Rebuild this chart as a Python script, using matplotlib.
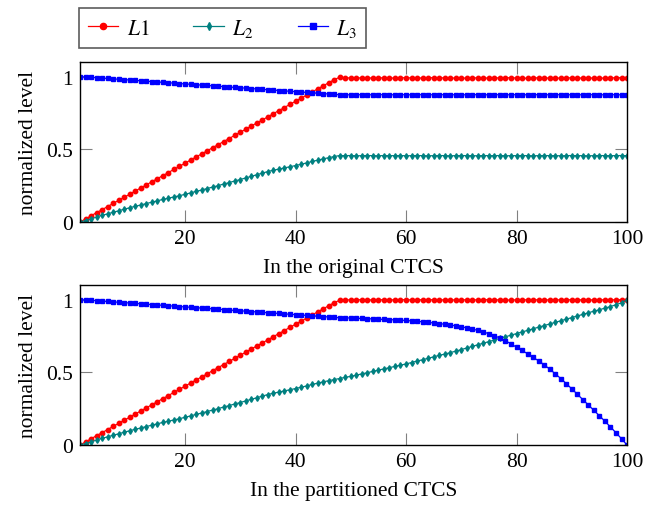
import numpy as np
import matplotlib
matplotlib.use("Agg")
import matplotlib.pyplot as plt

plt.rcParams['font.family'] = ['Liberation Serif', 'DejaVu Serif']
plt.rcParams['mathtext.fontset'] = 'stix'
plt.rcParams['font.size'] = 15.5

# eixo x: passos 1..100
passos = np.arange(1, 101)

# subida comum (x = 1..48)
subida_L1 = [0.000, 0.021, 0.043, 0.064, 0.085, 0.106, 0.128, 0.149, 0.170, 0.191,
             0.213, 0.234, 0.255, 0.277, 0.298, 0.319, 0.340, 0.362, 0.383, 0.404,
             0.426, 0.447, 0.468, 0.489, 0.511, 0.532, 0.553, 0.574, 0.596, 0.617,
             0.638, 0.660, 0.681, 0.702, 0.723, 0.745, 0.766, 0.787, 0.809, 0.830,
             0.851, 0.872, 0.894, 0.915, 0.936, 0.957, 0.979, 0.995]
subida_L2 = [0.000, 0.010, 0.021, 0.034, 0.046, 0.056, 0.067, 0.077, 0.088, 0.098,
             0.108, 0.117, 0.127, 0.136, 0.146, 0.155, 0.164, 0.172, 0.181, 0.190,
             0.200, 0.210, 0.220, 0.230, 0.240, 0.250, 0.261, 0.271, 0.282, 0.292,
             0.303, 0.314, 0.325, 0.336, 0.347, 0.356, 0.364, 0.372, 0.380, 0.388,
             0.397, 0.406, 0.416, 0.425, 0.434, 0.442, 0.450, 0.457]
descida_L3 = [1.000, 0.997, 0.995, 0.992, 0.989, 0.987, 0.984, 0.981, 0.979, 0.976,
              0.973, 0.971, 0.968, 0.965, 0.963, 0.960, 0.957, 0.955, 0.952, 0.949,
              0.947, 0.944, 0.941, 0.939, 0.936, 0.933, 0.931, 0.928, 0.925, 0.923,
              0.920, 0.917, 0.915, 0.912, 0.909, 0.907, 0.904, 0.901, 0.899, 0.896,
              0.893, 0.891, 0.888, 0.885, 0.883, 0.880, 0.877, 0.875]

# CTCS original (x = 49..100)
orig_L1_fim = [0.991, 0.990, 0.992, 0.989, 0.988, 0.991, 0.990, 0.991, 0.990, 0.989,
               0.991, 0.992, 0.990, 0.989, 0.990, 0.991, 0.992, 0.990, 0.991, 0.989,
               0.990, 0.992, 0.987, 0.990, 0.991, 0.990, 0.989, 0.991, 0.990, 0.992,
               0.991, 0.990, 0.989, 0.988, 0.990, 0.991, 0.989, 0.990, 0.988, 0.990,
               0.989, 0.992, 0.990, 0.989, 0.990, 0.989, 0.988, 0.990, 0.991, 0.991,
               0.990, 0.990]
orig_L2_fim = [0.456, 0.457, 0.455, 0.456, 0.457, 0.456, 0.455, 0.457, 0.456, 0.456,
               0.457, 0.455, 0.456, 0.457, 0.456, 0.455, 0.456, 0.457, 0.456, 0.455,
               0.456, 0.457, 0.456, 0.456, 0.455, 0.457, 0.456, 0.456, 0.457, 0.455,
               0.456, 0.456, 0.457, 0.456, 0.455, 0.456, 0.457, 0.456, 0.456, 0.455,
               0.456, 0.457, 0.456, 0.456, 0.455, 0.456, 0.457, 0.456, 0.456, 0.456,
               0.457, 0.456]
orig_L3_fim = [0.875, 0.874, 0.875, 0.875, 0.874, 0.875, 0.875, 0.875, 0.874, 0.875,
               0.875, 0.875, 0.874, 0.875, 0.875, 0.874, 0.875, 0.875, 0.875, 0.874,
               0.875, 0.875, 0.874, 0.875, 0.875, 0.875, 0.874, 0.875, 0.875, 0.874,
               0.875, 0.875, 0.875, 0.874, 0.875, 0.875, 0.874, 0.875, 0.875, 0.875,
               0.874, 0.875, 0.875, 0.874, 0.875, 0.875, 0.875, 0.874, 0.875, 0.875,
               0.874, 0.875]

# CTCS particionado (x = 49..100)
part_L1_fim = [0.998, 0.997, 0.999, 0.998, 0.996, 0.998, 0.997, 0.999, 0.998, 0.997,
               0.998, 0.999, 0.997, 0.998, 0.998, 0.997, 0.999, 0.998, 0.997, 0.996,
               0.998, 0.999, 0.997, 0.998, 0.997, 0.998, 0.999, 0.997, 0.998, 0.997,
               0.996, 0.998, 0.997, 0.998, 0.999, 0.997, 0.996, 0.998, 0.997, 0.998,
               0.997, 0.999, 0.998, 0.997, 0.996, 0.998, 0.997, 0.998, 0.997, 0.998,
               0.999, 0.998]
part_L2_fim = [0.465, 0.472, 0.480, 0.489, 0.497, 0.506, 0.515, 0.523, 0.532, 0.540,
               0.549, 0.557, 0.567, 0.577, 0.586, 0.596, 0.606, 0.616, 0.625, 0.635,
               0.645, 0.656, 0.667, 0.678, 0.689, 0.700, 0.711, 0.722, 0.733, 0.744,
               0.755, 0.766, 0.777, 0.788, 0.799, 0.810, 0.821, 0.832, 0.843, 0.854,
               0.865, 0.876, 0.887, 0.898, 0.909, 0.920, 0.930, 0.941, 0.952, 0.964,
               0.978, 0.998]
part_L3_fim = [0.874, 0.873, 0.871, 0.870, 0.868, 0.867, 0.865, 0.863, 0.862, 0.860,
               0.858, 0.856, 0.853, 0.850, 0.847, 0.843, 0.839, 0.835, 0.830, 0.825,
               0.819, 0.813, 0.805, 0.797, 0.788, 0.777, 0.765, 0.751, 0.735, 0.717,
               0.695, 0.672, 0.650, 0.627, 0.603, 0.578, 0.552, 0.521, 0.490, 0.457,
               0.422, 0.386, 0.349, 0.312, 0.275, 0.238, 0.201, 0.163, 0.124, 0.084,
               0.043, 0.000]

paineis = [
    ("In the original CTCS", subida_L1 + orig_L1_fim, subida_L2 + orig_L2_fim, descida_L3 + orig_L3_fim),
    ("In the partitioned CTCS", subida_L1 + part_L1_fim, subida_L2 + part_L2_fim, descida_L3 + part_L3_fim),
]

estilos = [
    (r"$L1$", "#ff0000", "o", 3.2),
    (r"$L_2$", "#008080", "d", 2.9),
    (r"$L_3\;$", "#0000ff", "s", 3.0),
]

fig = plt.figure(figsize=(6.57, 5.06), dpi=100)
eixos = [fig.add_axes([0.1218, 0.5593, 0.8326, 0.3162]),
         fig.add_axes([0.1218, 0.1186, 0.8326, 0.3162])]

for ax, (titulo, l1, l2, l3) in zip(eixos, paineis):
    for (rotulo, cor, marca, tam), serie in zip(estilos, [l1, l2, l3]):
        ax.plot(passos, serie, color=cor, marker=marca, markersize=tam,
                linewidth=0.9, label=rotulo)
    ax.set_xlim(1, 100)
    ax.set_ylim(0, 1.1)
    ax.set_xticks([20, 40, 60, 80, 100])
    ax.set_yticks([0, 0.5, 1])
    ax.set_yticklabels(["0", "0.5", "1"])
    ax.tick_params(direction='in', length=8.5, width=0.8, color='#808080',
                   top=True, right=True, labelsize=15.5, pad=5)
    for s in ax.spines.values():
        s.set_linewidth(1.0)
    ax.set_xlabel(titulo, fontsize=15.5, labelpad=7)
    ax.set_ylabel("normalized level", fontsize=15.5, labelpad=6)

handles, labels = eixos[0].get_legend_handles_labels()
leg = fig.legend(handles, labels, loc='upper left', bbox_to_anchor=(0.120, 0.983),
                 ncol=3, frameon=True, fancybox=False, edgecolor='#333333',
                 handlelength=1.4, handletextpad=0.4, columnspacing=2.05,
                 borderaxespad=0, borderpad=0.42, fontsize=15.5, markerscale=1.4)
leg.get_frame().set_linewidth(1.2)

fig.savefig("out.png", dpi=100)
